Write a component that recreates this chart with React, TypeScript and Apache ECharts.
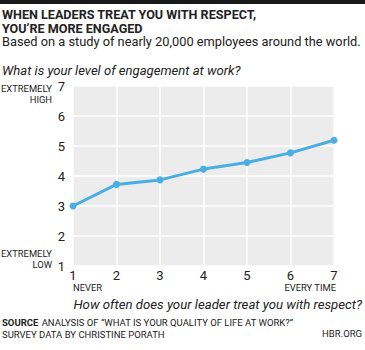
import React, { useEffect, useRef } from "react";
import * as echarts from "echarts";

const respectLevels = [1, 2, 3, 4, 5, 6, 7];
const engagement = [3.0, 3.72, 3.87, 4.23, 4.45, 4.77, 5.19];
const yTicks = [1, 2, 3, 4, 5, 6, 7];

const FONT = "Roboto, 'Noto Sans', sans-serif";
const INK = "#222";

export default function App() {
  const ref = useRef<HTMLDivElement>(null);
  useEffect(() => {
    document.body.style.margin = "0";
    if (!ref.current) return;
    const chart = echarts.init(ref.current, null, { renderer: "svg" });
    chart.setOption({
      animation: false,
      backgroundColor: "#fff",
      grid: {
        left: 73,
        right: 31,
        top: 86,
        bottom: 84,
        show: true,
        backgroundColor: "#ececec",
        borderWidth: 0,
      },
      xAxis: {
        type: "value",
        min: 1,
        max: 7,
        interval: 1,
        axisLine: { show: false },
        axisTick: { show: false },
        splitLine: { show: true, lineStyle: { color: "#fff", width: 1.5 } },
        axisLabel: {
          margin: 3,
          color: INK,
          fontFamily: FONT,
          fontSize: 13,
          formatter: (v: number) => String(v),
        },
      },
      yAxis: {
        type: "value",
        min: yTicks[0],
        max: yTicks[yTicks.length - 1],
        interval: 1,
        axisLine: { show: false },
        axisTick: { show: false },
        splitLine: { show: true, lineStyle: { color: "#fff", width: 1.5 } },
        axisLabel: {
          margin: 8,
          color: INK,
          fontFamily: FONT,
          fontSize: 13,
        },
      },
      series: [
        {
          type: "line",
          data: respectLevels.map((x, i) => [x, engagement[i]]),
          symbol: "circle",
          symbolSize: 7,
          lineStyle: { color: "#4aaee2", width: 3 },
          itemStyle: { color: "#4aaee2" },
        },
      ],
      graphic: [
        { type: "rect", shape: { x: 0, y: 0, width: 365, height: 4 }, style: { fill: "#1a1a1a" } },
        {
          type: "text",
          x: 2,
          y: 7,
          style: {
            text: "WHEN LEADERS TREAT YOU WITH RESPECT,\nYOU’RE MORE ENGAGED",
            font: `bold 12.6px ${FONT}`,
            fill: INK,
            lineHeight: 14,
          },
        },
        {
          type: "text",
          x: 2,
          y: 35,
          style: {
            text: "Based on a study of nearly 20,000 employees around the world.",
            font: `12.8px ${FONT}`,
            fill: INK,
          },
        },
        {
          type: "text",
          x: 2,
          y: 64,
          style: {
            text: "What is your level of engagement at work?",
            font: `italic 13.1px ${FONT}`,
            fill: INK,
          },
        },
        {
          type: "text",
          x: 52,
          y: 83,
          style: {
            text: "EXTREMELY\nHIGH",
            font: `9.4px ${FONT}`,
            fill: INK,
            align: "right",
            lineHeight: 11,
          },
        },
        {
          type: "text",
          x: 52,
          y: 248,
          style: {
            text: "EXTREMELY\nLOW",
            font: `9.4px ${FONT}`,
            fill: INK,
            align: "right",
            lineHeight: 11,
          },
        },
        {
          type: "text",
          x: 73,
          y: 283,
          style: { text: "NEVER", font: `9.4px ${FONT}`, fill: INK },
        },
        {
          type: "text",
          x: 336,
          y: 283,
          style: { text: "EVERY TIME", font: `9.4px ${FONT}`, fill: INK, align: "right" },
        },
        {
          type: "text",
          x: 362,
          y: 298,
          style: {
            text: "How often does your leader treat you with respect?",
            font: `italic 13.2px ${FONT}`,
            fill: INK,
            align: "right",
          },
        },
        {
          type: "text",
          x: 2,
          y: 316,
          style: {
            rich: {
              b: { font: `bold 9.5px ${FONT}`, fill: INK },
              n: { font: `9.5px ${FONT}`, fill: INK },
            },
            text: "{b|SOURCE} {n|ANALYSIS OF “WHAT IS YOUR QUALITY OF LIFE AT WORK?”}\n{n|SURVEY DATA BY CHRISTINE PORATH}",
            lineHeight: 12,
          },
        },
        {
          type: "text",
          x: 362,
          y: 328,
          style: { text: "HBR.ORG", font: `9.5px ${FONT}`, fill: INK, align: "right" },
        },
      ],
    });
    return () => chart.dispose();
  }, []);
  return <div ref={ref} style={{ width: 365, height: 350 }} />;
}
